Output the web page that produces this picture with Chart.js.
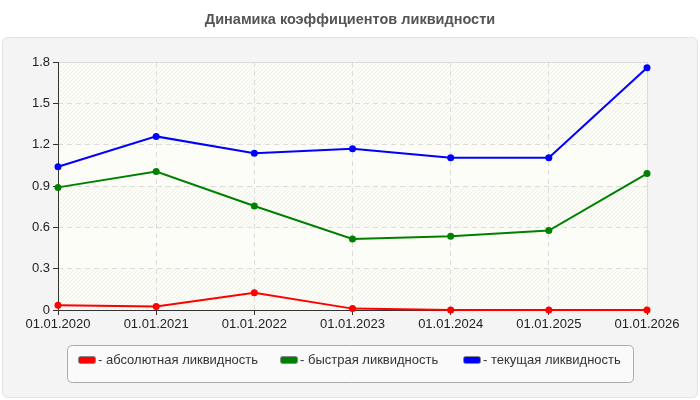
<!DOCTYPE html>
<html><head><meta charset="utf-8">
<script src="https://cdn.jsdelivr.net/npm/chart.js@4.4.1/dist/chart.umd.min.js"></script>
<style>html,body{margin:0;padding:0;background:#fff}#wrap{width:700px;height:400px;position:relative}</style>
</head><body><div id="wrap"><canvas id="c" width="700" height="400"></canvas></div>
<script>
const categories = ['01.01.2020','01.01.2021','01.01.2022','01.01.2023','01.01.2024','01.01.2025','01.01.2026'];
const absoluteLiq = [0.034, 0.025, 0.125, 0.010, 0.0, 0.0, 0.0];
const quickLiq = [0.89, 1.005, 0.755, 0.515, 0.535, 0.577, 0.99];
const currentLiq = [1.04, 1.26, 1.137, 1.17, 1.105, 1.105, 1.758];
const seriesNames = ['- абсолютная ликвидность', '- быстрая ликвидность', '- текущая ликвидность'];
const seriesColors = ['#ff0000', '#008000', '#0000ff'];
const yTicks = [0, 0.3, 0.6, 0.9, 1.2, 1.5, 1.8];
const titleText = 'Динамика коэффициентов ликвидности';
const FONT = '"Liberation Sans", Arial, sans-serif';

function rr(ctx, x, y, w, h, r) {
  ctx.beginPath();
  ctx.moveTo(x + r, y);
  ctx.lineTo(x + w - r, y); ctx.quadraticCurveTo(x + w, y, x + w, y + r);
  ctx.lineTo(x + w, y + h - r); ctx.quadraticCurveTo(x + w, y + h, x + w - r, y + h);
  ctx.lineTo(x + r, y + h); ctx.quadraticCurveTo(x, y + h, x, y + h - r);
  ctx.lineTo(x, y + r); ctx.quadraticCurveTo(x, y, x + r, y);
  ctx.closePath();
}

const pc = document.createElement('canvas');
pc.width = 4; pc.height = 4;
const px = pc.getContext('2d');
px.fillStyle = '#fdfdf8'; px.fillRect(0, 0, 4, 4);
px.strokeStyle = '#efefef'; px.lineWidth = 1;
px.beginPath(); px.moveTo(-1, 5); px.lineTo(5, -1); px.stroke();

const bgPlugin = {
  id: 'bg',
  beforeDraw(chart) {
    const ctx = chart.ctx, a = chart.chartArea, ys = chart.scales.y;
    ctx.save();
    ctx.fillStyle = '#fff'; ctx.fillRect(0, 0, 700, 400);
    rr(ctx, 2.5, 37.5, 695, 360, 6);
    ctx.fillStyle = '#f4f4f4'; ctx.fill();
    ctx.strokeStyle = '#e2e2e2'; ctx.lineWidth = 1; ctx.stroke();
    ctx.fillStyle = '#fdfdf8';
    ctx.fillRect(a.left, a.top, a.right - a.left, a.bottom - a.top);
    const pat = ctx.createPattern(pc, 'repeat');
    const hatched = [0, 2, 4, 5];
    hatched.forEach(i => {
      const yb = ys.getPixelForValue(yTicks[i]);
      const yt = ys.getPixelForValue(yTicks[i + 1]);
      ctx.fillStyle = pat;
      ctx.fillRect(a.left, yt, a.right - a.left, yb - yt);
    });
    ctx.font = 'bold 14.5px ' + FONT;
    ctx.fillStyle = '#555';
    ctx.textAlign = 'center';
    ctx.textBaseline = 'middle';
    ctx.fillText(titleText, 350, 20);
    ctx.restore();
  },
  beforeDatasetsDraw(chart) {
    const ctx = chart.ctx, a = chart.chartArea;
    ctx.save();
    ctx.strokeStyle = '#dcdcdc'; ctx.lineWidth = 1;
    ctx.beginPath();
    ctx.moveTo(a.left, a.top + 0.5); ctx.lineTo(a.right + 0.5, a.top + 0.5);
    ctx.lineTo(a.right + 0.5, a.bottom);
    ctx.stroke();
    ctx.strokeStyle = '#333'; 
    ctx.beginPath();
    ctx.moveTo(a.left + 0.5, a.top); ctx.lineTo(a.left + 0.5, a.bottom + 0.5);
    ctx.lineTo(a.right, a.bottom + 0.5);
    ctx.stroke();
    ctx.restore();
  },
  afterDraw(chart) {
    const ctx = chart.ctx;
    ctx.save();
    rr(ctx, 67.5, 345.5, 566, 37, 5);
    ctx.fillStyle = '#fafafa'; ctx.fill();
    ctx.strokeStyle = '#aaaaaa'; ctx.lineWidth = 1; ctx.stroke();
    const xs = [78, 280, 463];
    ctx.font = '13px ' + FONT;
    ctx.textBaseline = 'middle';
    for (let i = 0; i < 3; i++) {
      rr(ctx, xs[i] + 0.5, 356.5, 17, 7, 2);
      ctx.fillStyle = seriesColors[i]; ctx.fill();
      ctx.strokeStyle = '#888'; ctx.stroke();
      ctx.fillStyle = '#333';
      ctx.fillText(seriesNames[i], xs[i] + 20, 360.5);
    }
    ctx.restore();
  }
};

function ds(label, data, color) {
  return {
    label, data, borderColor: color, backgroundColor: color,
    borderWidth: 2, pointRadius: 3.5, pointHoverRadius: 3.5,
    pointBackgroundColor: color, pointBorderColor: color, pointBorderWidth: 0,
    tension: 0, fill: false, clip: false
  };
}

new Chart(document.getElementById('c'), {
  type: 'line',
  data: {
    labels: categories,
    datasets: [
      ds(seriesNames[2], currentLiq, seriesColors[2]),
      ds(seriesNames[1], quickLiq, seriesColors[1]),
      ds(seriesNames[0], absoluteLiq, seriesColors[0])
    ]
  },
  options: {
    responsive: false,
    animation: false,
    events: [],
    layout: { padding: { left: 0, right: 53, top: 62, bottom: 65 } },
    plugins: {
      legend: { display: false },
      tooltip: { enabled: false },
      title: { display: false }
    },
    scales: {
      x: {
        type: 'category', offset: false,
        afterFit(s) { s.height = 25; },
        grid: { color: '#dcdcdc', lineWidth: 1, offset: false, tickColor: '#333', tickLength: 5, drawOnChartArea: true },
        border: { display: false, dash: [5, 4] },
        ticks: { color: '#222', font: { family: FONT, size: 13 }, padding: 2, maxRotation: 0, autoSkip: false }
      },
      y: {
        min: 0, max: 1.8,
        afterFit(s) { s.width = 58; },
        afterBuildTicks(s) { s.ticks = yTicks.map(v => ({ value: v })); },
        grid: { color: '#dcdcdc', lineWidth: 1, tickColor: '#333', tickLength: 5 },
        border: { display: false, dash: [5, 4] },
        ticks: { color: '#222', font: { family: FONT, size: 13 }, padding: 3, callback: v => String(+(+v).toFixed(1)) }
      }
    }
  },
  plugins: [bgPlugin]
});
</script>
</body></html>
